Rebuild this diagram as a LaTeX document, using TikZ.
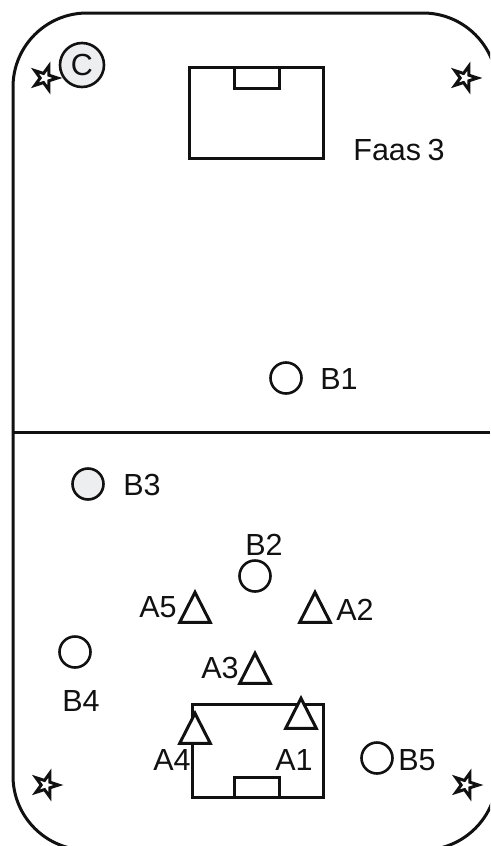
\documentclass[tikz,border=0pt]{standalone}
\usepackage{fontspec}
\setmainfont{Liberation Sans}
\usepackage{xcolor}
\usepackage{tikz}
\usetikzlibrary{shapes.geometric}
\definecolor{PlayerGrey}{HTML}{EDEEF0}
\definecolor{LineDark}{HTML}{111111}
\tikzset{
  pitchline/.style={draw=LineDark, line width=3pt},
  playerdot/.style={circle, draw=LineDark, line width=2.6pt, minimum size=31pt, inner sep=0pt},
  attacker/.style={isosceles triangle, isosceles triangle apex angle=54, shape border rotate=90,
                   anchor=apex, draw=LineDark, fill=white, line width=3pt, minimum size=30pt, inner sep=0pt},
  cornerstar/.style={star, star points=5, star point ratio=2.6, shape border rotate=-90, draw=LineDark,
                     line width=3pt, minimum size=25pt, inner sep=0pt},
  tag/.style={inner sep=0pt, text=LineDark, font=\fontsize{30.5}{30.5}\selectfont}
}
\begin{document}
\begin{tikzpicture}[x=1pt, y=-1pt]
  \useasboundingbox (0,0) rectangle (490,846);
  \clip (0,0) rectangle (490,846);
  \fill[white] (0,0) rectangle (490,846);
  % pitch
  \draw[pitchline, rounded corners=74pt] (13,13) rectangle (497,850);
  \draw[pitchline] (13,432) -- (490,432);
  % goals
  \draw[pitchline] (189,67) rectangle (323,158);
  \draw[pitchline] (234,67) rectangle (279,88);
  \draw[pitchline] (192,704) rectangle (323,797);
  \draw[pitchline] (234,777) rectangle (279,797);
  % corner stars
  \node[cornerstar] (starTL) at (45,78) {};
  \node[cornerstar] (starTR) at (465,78) {};
  \node[cornerstar] (starBL) at (46,785) {};
  \node[cornerstar] (starBR) at (466,785) {};
  % players
  \node[playerdot, fill=PlayerGrey, minimum size=44pt] (playerC) at (82,65) {};
  \node[tag] (labelC) at (82,65) {C};
  \node[playerdot] (playerB1) at (286,378) {};
  \node[playerdot, fill=PlayerGrey] (playerB3) at (88,484) {};
  \node[playerdot] (playerB2) at (255,576) {};
  \node[playerdot] (playerB4) at (75,652) {};
  \node[playerdot] (playerB5) at (377,758) {};
  \node[attacker] (playerA5) at (195,589) {};
  \node[attacker] (playerA2) at (315,589) {};
  \node[attacker] (playerA3) at (255,650) {};
  \node[attacker] (playerA1) at (301,695) {};
  \node[attacker] (playerA4) at (195,710) {};
  % labels
  \node[tag] (labelFaas) at (399,150) {Faas\hspace{-2pt} 3};
  \node[tag] (labelB1) at (339,379) {B1};
  \node[tag] (labelB3) at (142,485) {B3};
  \node[tag] (labelB2) at (264,545) {B2};
  \node[tag] (labelA5) at (158,607) {A5};
  \node[tag] (labelA2) at (355,610) {A2};
  \node[tag] (labelA3) at (220,668) {A3};
  \node[tag] (labelB4) at (81,701) {B4};
  \node[tag] (labelA4) at (172,760) {A4};
  \node[tag] (labelA1) at (294,760) {A1};
  \node[tag] (labelB5) at (417,760) {B5};
\end{tikzpicture}
\end{document}
